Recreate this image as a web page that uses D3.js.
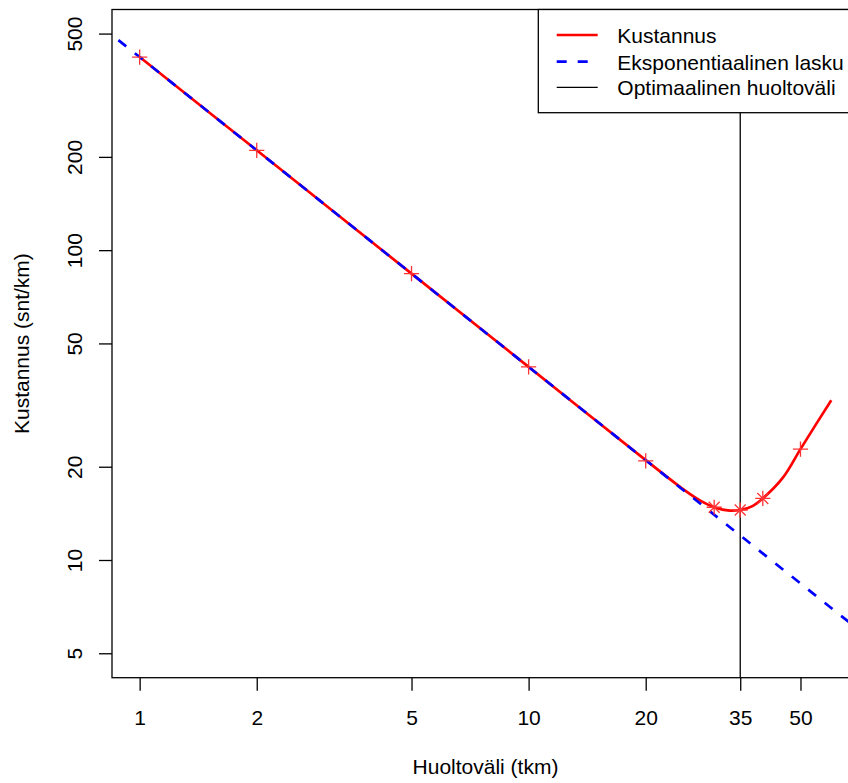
<!DOCTYPE html>
<html>
<head>
<meta charset="utf-8">
<script src="https://cdn.jsdelivr.net/npm/d3@7"></script>
<style>
  body { margin: 0; background: #fff; }
  svg { display: block; font-family: "Liberation Sans", Arial, sans-serif; }
</style>
</head>
<body>
<script>
// cost curve (red)
var costX = [1, 2, 5, 10, 20, 25, 27.5, 30, 32.5, 35, 37.5, 40, 45, 50, 55, 60];
var costY = [420, 210, 84, 42, 21, 16.9, 15.6, 14.8, 14.45, 14.5, 14.9, 15.8, 18.4, 22.8, 27.6, 32.8];

// measured points on the curve
var plusX = [1, 2, 5, 10, 20, 50];
var plusY = [420, 210, 84, 42, 20.9, 22.8];
var starX = [30, 35, 40];
var starY = [14.8, 14.5, 15.8];

// exponential decline (blue dashed), a straight line in log-log
var expX = [0.8, 1, 10, 75];
var expY = [525, 420, 42, 5.6];

// optimal interval
var optimum = 35;

var xTicks = [1, 2, 5, 10, 20, 35, 50];
var yTicks = [5, 10, 20, 50, 100, 200, 500];

var legendLabels = ["Kustannus", "Eksponentiaalinen lasku", "Optimaalinen huoltoväli"];

var W = 848, H = 783;
var plotL = 112, plotR = 859, plotT = 9.5, plotB = 677.7;
var fontSize = "21px";

var svg = d3.select("body").append("svg")
    .attr("width", W)
    .attr("height", H);

svg.append("rect").attr("width", W).attr("height", H).attr("fill", "#fff");

// log scales, R style 4% padding already in the domain
var x = d3.scaleLog().domain([0.849, 70.7]).range([plotL, plotR]);
var y = d3.scaleLog().domain([4.17, 598]).range([plotB, plotT]);

svg.append("clipPath").attr("id", "plotclip")
    .append("rect")
    .attr("x", plotL).attr("y", plotT)
    .attr("width", plotR - plotL).attr("height", plotB - plotT);

var plot = svg.append("g").attr("clip-path", "url(#plotclip)");

var line = d3.line()
    .x(function (d) { return x(d[0]); })
    .y(function (d) { return y(d[1]); });

// vertical line at the optimum
plot.append("line")
    .attr("x1", x(optimum)).attr("x2", x(optimum))
    .attr("y1", plotT).attr("y2", plotB)
    .attr("stroke", "#000")
    .attr("stroke-width", 1.3);

// cost curve
plot.append("path")
    .datum(d3.zip(costX, costY))
    .attr("d", line.curve(d3.curveCatmullRom.alpha(0.5)))
    .attr("fill", "none")
    .attr("stroke", "#ff0000")
    .attr("stroke-width", 2.7);

// exponential decline, drawn over the red line
plot.append("path")
    .datum(d3.zip(expX, expY))
    .attr("d", line.curve(d3.curveLinear))
    .attr("fill", "none")
    .attr("stroke", "#0000ff")
    .attr("stroke-width", 2.7)
    .attr("stroke-dasharray", "10,11");

var markColor = "#ff3333";
var s = 7.6;

// pch 3 plus signs
plot.selectAll(".plus")
    .data(d3.zip(plusX, plusY))
    .enter().append("path")
    .attr("class", "plus")
    .attr("d", function (d) {
        var cx = x(d[0]), cy = y(d[1]);
        return "M" + (cx - s) + "," + cy + "H" + (cx + s) +
            "M" + cx + "," + (cy - s) + "V" + (cy + s);
    })
    .attr("stroke", markColor)
    .attr("stroke-width", 1.3)
    .attr("fill", "none");

// pch 8 asterisks
plot.selectAll(".star")
    .data(d3.zip(starX, starY))
    .enter().append("path")
    .attr("class", "star")
    .attr("d", function (d) {
        var cx = x(d[0]), cy = y(d[1]), k = s * 0.72;
        return "M" + (cx - s) + "," + cy + "H" + (cx + s) +
            "M" + cx + "," + (cy - s) + "V" + (cy + s) +
            "M" + (cx - k) + "," + (cy - k) + "L" + (cx + k) + "," + (cy + k) +
            "M" + (cx - k) + "," + (cy + k) + "L" + (cx + k) + "," + (cy - k);
    })
    .attr("stroke", markColor)
    .attr("stroke-width", 1.3)
    .attr("fill", "none");

// x axis
var xAxis = d3.axisBottom(x)
    .tickValues(xTicks)
    .tickFormat(d3.format("d"))
    .tickSize(13);

var gx = svg.append("g")
    .attr("transform", "translate(0," + plotB + ")")
    .call(xAxis);
gx.select(".domain").remove();
gx.selectAll("line").attr("stroke", "#000").attr("stroke-width", 1.3);
gx.selectAll("text")
    .attr("fill", "#000")
    .style("font-size", fontSize)
    .attr("y", 47.5)
    .attr("dy", null);

// y axis, labels rotated like R's default las=0
var yAxis = d3.axisLeft(y)
    .tickValues(yTicks)
    .tickFormat(d3.format("d"))
    .tickSize(13);

var gy = svg.append("g")
    .attr("transform", "translate(" + plotL + ",0)")
    .call(yAxis);
gy.select(".domain").remove();
gy.selectAll("line").attr("stroke", "#000").attr("stroke-width", 1.3);
gy.selectAll("text")
    .attr("fill", "#000")
    .style("font-size", fontSize)
    .attr("x", null)
    .attr("dy", null)
    .attr("text-anchor", "middle")
    .attr("transform", "translate(" + (81.7 - plotL) + ",0) rotate(-90)");
gy.attr("font-family", null);
gx.attr("font-family", null);

// box around the plot
svg.append("rect")
    .attr("x", plotL).attr("y", plotT)
    .attr("width", plotR - plotL).attr("height", plotB - plotT)
    .attr("fill", "none")
    .attr("stroke", "#000")
    .attr("stroke-width", 1.3);

// axis titles
svg.append("text")
    .attr("x", (plotL + plotR) / 2)
    .attr("y", 774)
    .attr("text-anchor", "middle")
    .style("font-size", fontSize)
    .text("Huoltoväli (tkm)");

svg.append("text")
    .attr("transform", "translate(29.3," + ((plotT + plotB) / 2) + ") rotate(-90)")
    .attr("text-anchor", "middle")
    .style("font-size", fontSize)
    .text("Kustannus (snt/km)");

// legend (top right, runs off the picture like the original)
var legend = svg.append("g");
legend.append("rect")
    .attr("x", 538.3).attr("y", plotT)
    .attr("width", 400).attr("height", 112.7 - plotT)
    .attr("fill", "#fff")
    .attr("stroke", "#000")
    .attr("stroke-width", 1.3);

var legendRows = [
    { color: "#ff0000", width: 2.7, dash: null },
    { color: "#0000ff", width: 2.7, dash: "10,11" },
    { color: "#000", width: 1.3, dash: null }
];
var rowY = [35, 61.7, 87.3];

legendRows.forEach(function (r, i) {
    legend.append("line")
        .attr("x1", 556.7).attr("x2", 597.7)
        .attr("y1", rowY[i]).attr("y2", rowY[i])
        .attr("stroke", r.color)
        .attr("stroke-width", r.width)
        .attr("stroke-dasharray", r.dash);
    legend.append("text")
        .attr("x", 617.3)
        .attr("y", rowY[i] + 8)
        .style("font-size", fontSize)
        .text(legendLabels[i]);
});
</script>
</body>
</html>
